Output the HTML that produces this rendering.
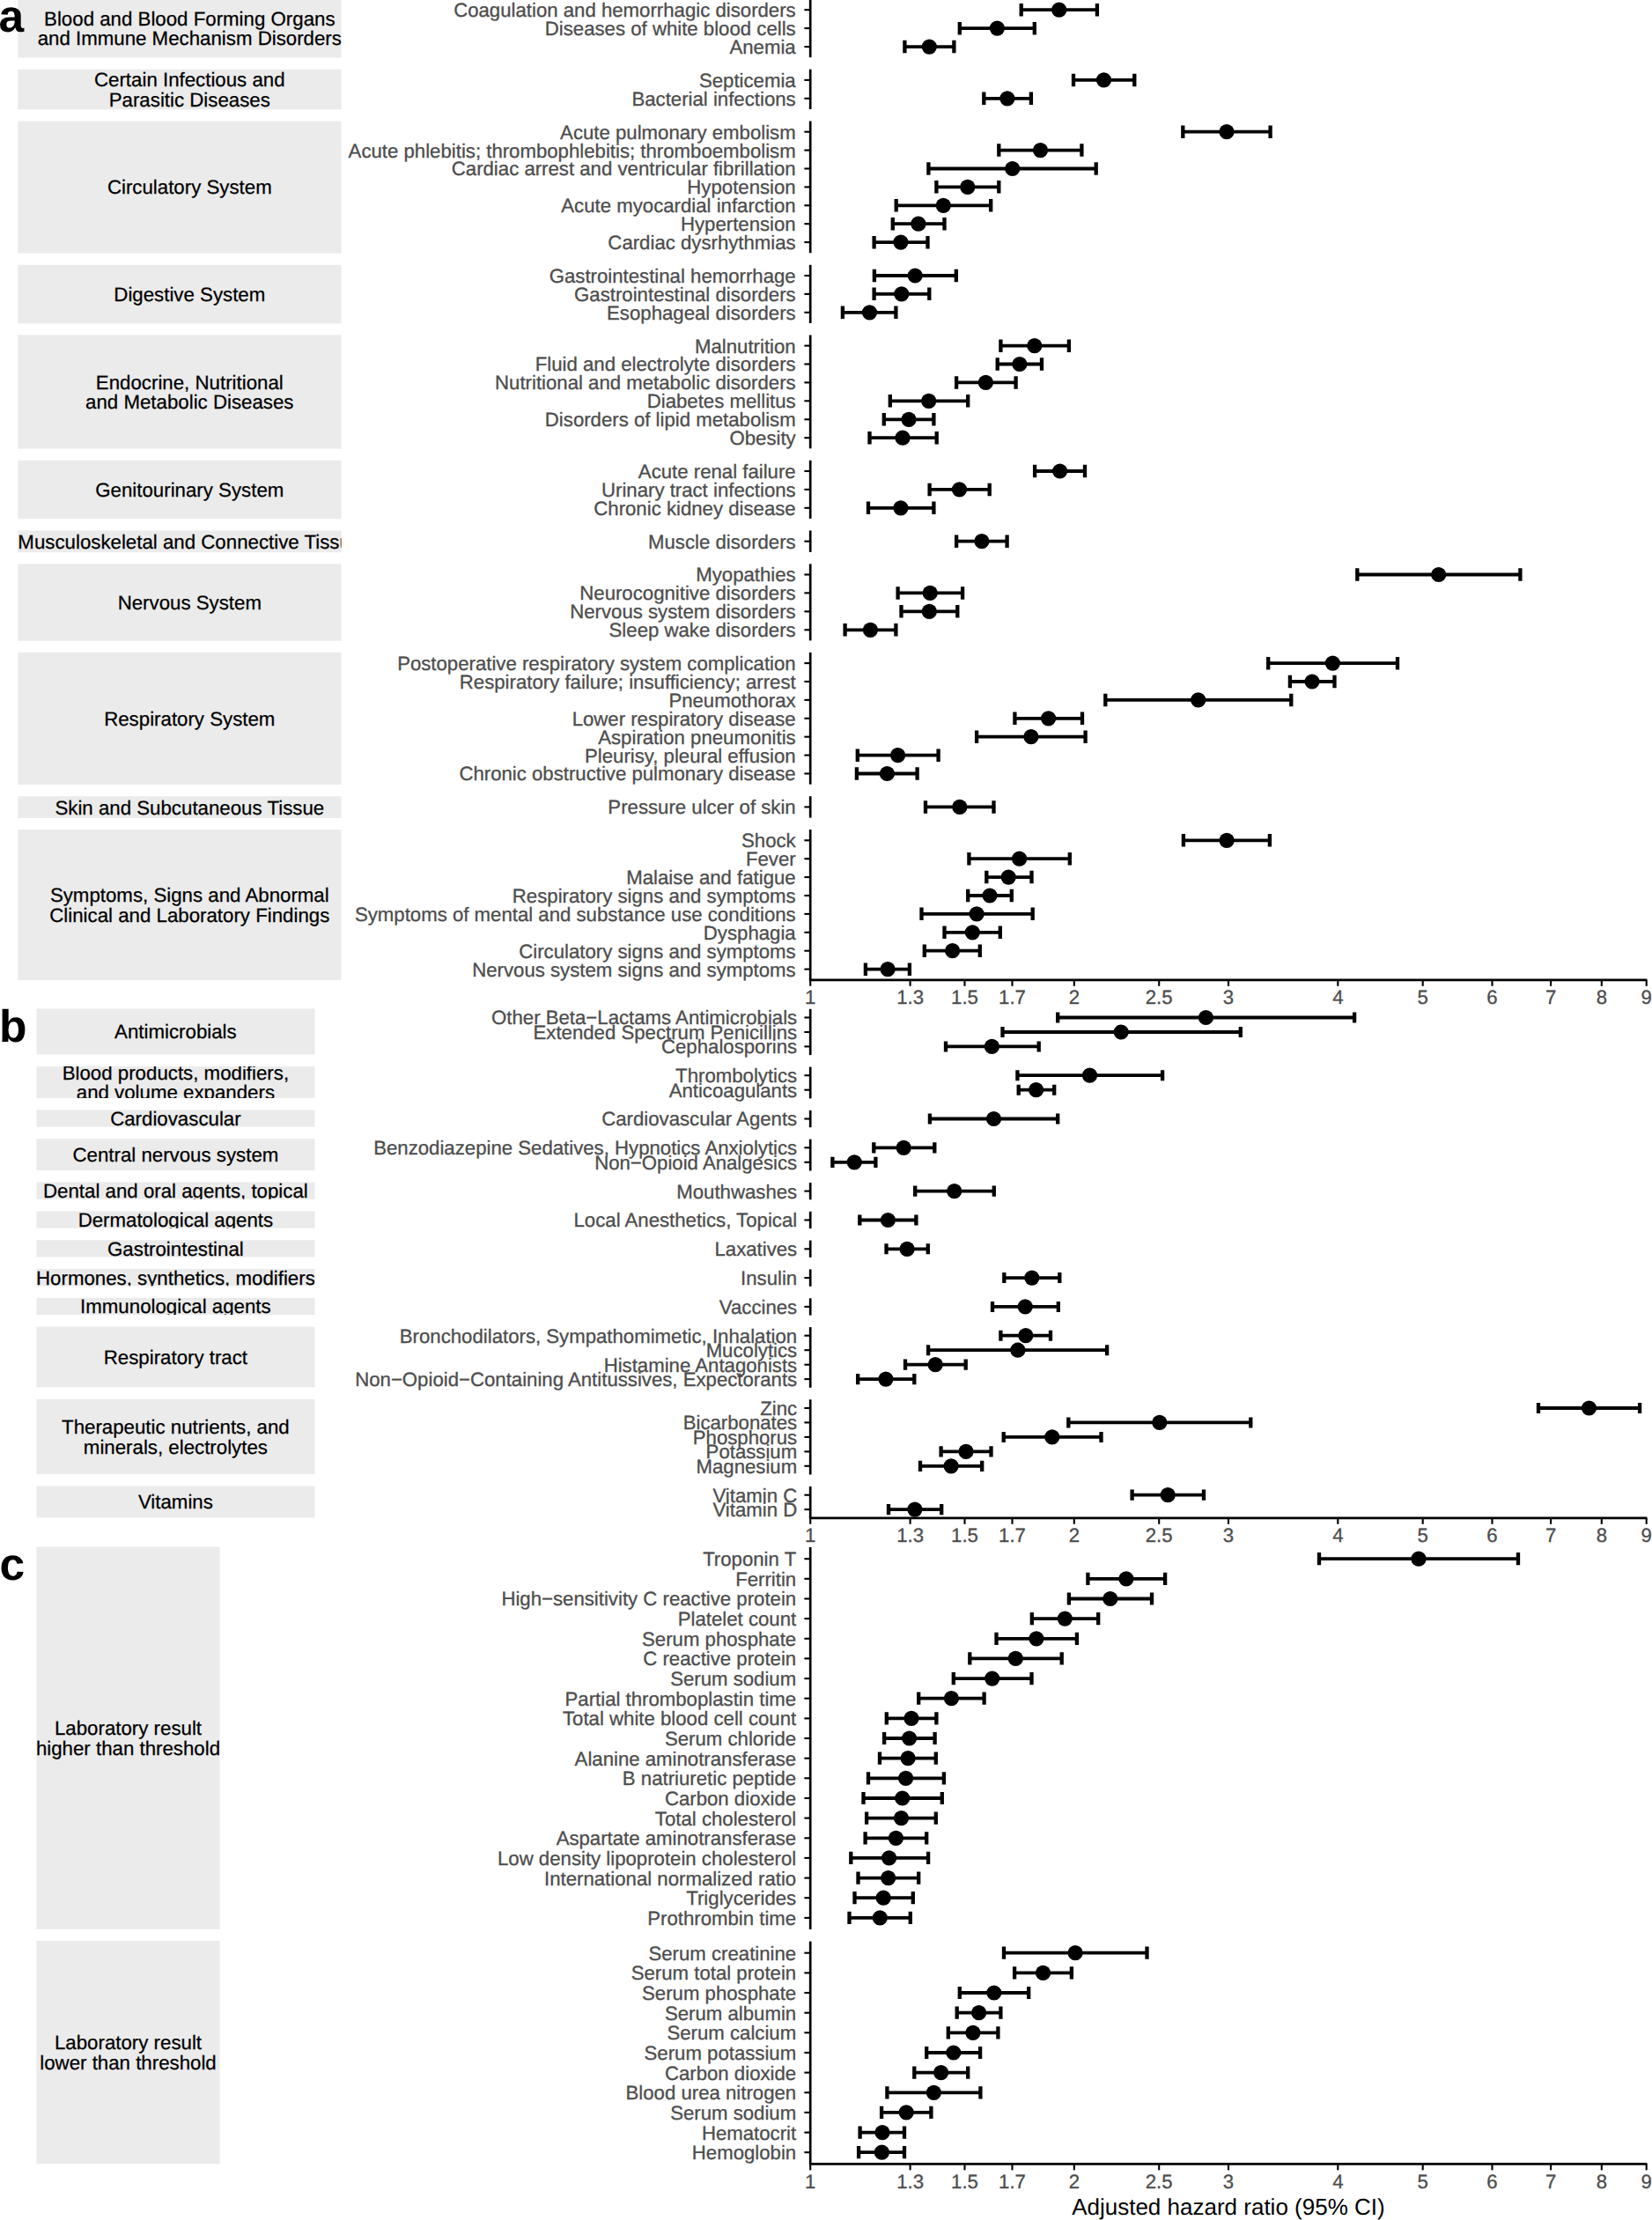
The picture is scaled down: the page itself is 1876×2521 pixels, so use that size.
<!DOCTYPE html>
<html lang="en"><head><meta charset="utf-8"><title>Forest plot</title>
<style>html,body{margin:0;padding:0;background:#fff;width:1876px;height:2521px;overflow:hidden}svg{display:block}</style></head>
<body>
<svg width="1876" height="2521" viewBox="0 0 1876 2521" font-family="'Liberation Sans', sans-serif" text-rendering="geometricPrecision" font-size="22.20">
<rect width="1876" height="2521" fill="#fff"/>
<g><clipPath id="c1"><rect x="20.2" y="-1.0" width="367.3" height="66.5"/></clipPath><rect x="20.2" y="-1.0" width="367.3" height="66.5" fill="#ebebeb"/><g clip-path="url(#c1)" text-anchor="middle" font-size="22.28" fill="#000" stroke="#000" stroke-width="0.25"><text x="215.3" y="29.0">Blood and Blood Forming Organs</text><text x="215.3" y="51.3">and Immune Mechanism Disorders</text></g><clipPath id="c2"><rect x="20.2" y="78.7" width="367.3" height="45.6"/></clipPath><rect x="20.2" y="78.7" width="367.3" height="45.6" fill="#ebebeb"/><g clip-path="url(#c2)" text-anchor="middle" font-size="22.28" fill="#000" stroke="#000" stroke-width="0.25"><text x="215.3" y="98.3">Certain Infectious and</text><text x="215.3" y="120.6">Parasitic Diseases</text></g><clipPath id="c3"><rect x="20.2" y="137.5" width="367.3" height="150.1"/></clipPath><rect x="20.2" y="137.5" width="367.3" height="150.1" fill="#ebebeb"/><g clip-path="url(#c3)" text-anchor="middle" font-size="22.28" fill="#000" stroke="#000" stroke-width="0.25"><text x="215.3" y="220.4">Circulatory System</text></g><clipPath id="c4"><rect x="20.2" y="300.8" width="367.3" height="66.5"/></clipPath><rect x="20.2" y="300.8" width="367.3" height="66.5" fill="#ebebeb"/><g clip-path="url(#c4)" text-anchor="middle" font-size="22.28" fill="#000" stroke="#000" stroke-width="0.25"><text x="215.3" y="341.9">Digestive System</text></g><clipPath id="c5"><rect x="20.2" y="380.4" width="367.3" height="129.2"/></clipPath><rect x="20.2" y="380.4" width="367.3" height="129.2" fill="#ebebeb"/><g clip-path="url(#c5)" text-anchor="middle" font-size="22.28" fill="#000" stroke="#000" stroke-width="0.25"><text x="215.3" y="441.8">Endocrine, Nutritional</text><text x="215.3" y="464.1">and Metabolic Diseases</text></g><clipPath id="c6"><rect x="20.2" y="522.8" width="367.3" height="66.5"/></clipPath><rect x="20.2" y="522.8" width="367.3" height="66.5" fill="#ebebeb"/><g clip-path="url(#c6)" text-anchor="middle" font-size="22.28" fill="#000" stroke="#000" stroke-width="0.25"><text x="215.3" y="564.0">Genitourinary System</text></g><clipPath id="c7"><rect x="20.2" y="602.5" width="367.3" height="24.7"/></clipPath><rect x="20.2" y="602.5" width="367.3" height="24.7" fill="#ebebeb"/><g clip-path="url(#c7)" text-anchor="middle" font-size="22.28" fill="#000" stroke="#000" stroke-width="0.25"><text x="215.3" y="622.7">Musculoskeletal and Connective Tissue</text></g><clipPath id="c8"><rect x="20.2" y="640.3" width="367.3" height="87.4"/></clipPath><rect x="20.2" y="640.3" width="367.3" height="87.4" fill="#ebebeb"/><g clip-path="url(#c8)" text-anchor="middle" font-size="22.28" fill="#000" stroke="#000" stroke-width="0.25"><text x="215.3" y="691.9">Nervous System</text></g><clipPath id="c9"><rect x="20.2" y="740.9" width="367.3" height="150.1"/></clipPath><rect x="20.2" y="740.9" width="367.3" height="150.1" fill="#ebebeb"/><g clip-path="url(#c9)" text-anchor="middle" font-size="22.28" fill="#000" stroke="#000" stroke-width="0.25"><text x="215.3" y="823.9">Respiratory System</text></g><clipPath id="c10"><rect x="20.2" y="904.2" width="367.3" height="24.7"/></clipPath><rect x="20.2" y="904.2" width="367.3" height="24.7" fill="#ebebeb"/><g clip-path="url(#c10)" text-anchor="middle" font-size="22.28" fill="#000" stroke="#000" stroke-width="0.25"><text x="215.3" y="924.5">Skin and Subcutaneous Tissue</text></g><clipPath id="c11"><rect x="20.2" y="942.1" width="367.3" height="171.0"/></clipPath><rect x="20.2" y="942.1" width="367.3" height="171.0" fill="#ebebeb"/><g clip-path="url(#c11)" text-anchor="middle" font-size="22.28" fill="#000" stroke="#000" stroke-width="0.25"><text x="215.3" y="1024.3">Symptoms, Signs and Abnormal</text><text x="215.3" y="1046.6">Clinical and Laboratory Findings</text></g></g>
<g text-anchor="end" fill="#4d4d4d" stroke="#4d4d4d" stroke-width="0.3"><text x="903.7" y="19.1">Coagulation and hemorrhagic disorders</text><text x="903.7" y="40.0">Diseases of white blood cells</text><text x="903.7" y="61.0">Anemia</text><text x="903.7" y="98.8">Septicemia</text><text x="903.7" y="119.7">Bacterial infections</text><text x="903.7" y="157.6">Acute pulmonary embolism</text><text x="903.7" y="178.5">Acute phlebitis; thrombophlebitis; thromboembolism</text><text x="903.7" y="199.4">Cardiac arrest and ventricular fibrillation</text><text x="903.7" y="220.3">Hypotension</text><text x="903.7" y="241.2">Acute myocardial infarction</text><text x="903.7" y="262.1">Hypertension</text><text x="903.7" y="283.0">Cardiac dysrhythmias</text><text x="903.7" y="320.9">Gastrointestinal hemorrhage</text><text x="903.7" y="341.8">Gastrointestinal disorders</text><text x="903.7" y="362.7">Esophageal disorders</text><text x="903.7" y="400.5">Malnutrition</text><text x="903.7" y="421.4">Fluid and electrolyte disorders</text><text x="903.7" y="442.3">Nutritional and metabolic disorders</text><text x="903.7" y="463.2">Diabetes mellitus</text><text x="903.7" y="484.2">Disorders of lipid metabolism</text><text x="903.7" y="505.1">Obesity</text><text x="903.7" y="542.9">Acute renal failure</text><text x="903.7" y="563.8">Urinary tract infections</text><text x="903.7" y="584.7">Chronic kidney disease</text><text x="903.7" y="622.6">Muscle disorders</text><text x="903.7" y="660.4">Myopathies</text><text x="903.7" y="681.3">Neurocognitive disorders</text><text x="903.7" y="702.3">Nervous system disorders</text><text x="903.7" y="723.2">Sleep wake disorders</text><text x="903.7" y="761.0">Postoperative respiratory system complication</text><text x="903.7" y="781.9">Respiratory failure; insufficiency; arrest</text><text x="903.7" y="802.8">Pneumothorax</text><text x="903.7" y="823.7">Lower respiratory disease</text><text x="903.7" y="844.6">Aspiration pneumonitis</text><text x="903.7" y="865.5">Pleurisy, pleural effusion</text><text x="903.7" y="886.4">Chronic obstructive pulmonary disease</text><text x="903.7" y="924.3">Pressure ulcer of skin</text><text x="903.7" y="962.2">Shock</text><text x="903.7" y="983.1">Fever</text><text x="903.7" y="1004.0">Malaise and fatigue</text><text x="903.7" y="1024.9">Respiratory signs and symptoms</text><text x="903.7" y="1045.8">Symptoms of mental and substance use conditions</text><text x="903.7" y="1066.7">Dysphagia</text><text x="903.7" y="1087.6">Circulatory signs and symptoms</text><text x="903.7" y="1108.5">Nervous system signs and symptoms</text></g>
<g text-anchor="middle" fill="#4d4d4d" stroke="#4d4d4d" stroke-width="0.3"><text x="920.2" y="1140.1">1</text><text x="1033.6" y="1140.1">1.3</text><text x="1095.5" y="1140.1">1.5</text><text x="1149.5" y="1140.1">1.7</text><text x="1219.8" y="1140.1">2</text><text x="1316.2" y="1140.1">2.5</text><text x="1395.0" y="1140.1">3</text><text x="1519.3" y="1140.1">4</text><text x="1615.7" y="1140.1">5</text><text x="1694.5" y="1140.1">6</text><text x="1761.1" y="1140.1">7</text><text x="1818.8" y="1140.1">8</text><text x="1869.7" y="1140.1">9</text></g>
<g stroke="#000" stroke-width="2.7" fill="none"><line x1="920.2" y1="-0.9" x2="920.2" y2="65.2"/><line x1="920.2" y1="78.7" x2="920.2" y2="124.0"/><line x1="920.2" y1="137.5" x2="920.2" y2="287.3"/><line x1="920.2" y1="300.8" x2="920.2" y2="367.0"/><line x1="920.2" y1="380.5" x2="920.2" y2="509.3"/><line x1="920.2" y1="522.8" x2="920.2" y2="589.0"/><line x1="920.2" y1="602.5" x2="920.2" y2="626.9"/><line x1="920.2" y1="640.4" x2="920.2" y2="727.4"/><line x1="920.2" y1="740.9" x2="920.2" y2="890.7"/><line x1="920.2" y1="904.2" x2="920.2" y2="928.6"/><line x1="920.2" y1="942.1" x2="920.2" y2="1112.8"/><line x1="918.9" y1="1112.8" x2="1870.4" y2="1112.8"/></g>
<g stroke="#000" stroke-width="2.1" fill="none"><line x1="913.4" y1="11.2" x2="920.2" y2="11.2"/><line x1="913.4" y1="32.1" x2="920.2" y2="32.1"/><line x1="913.4" y1="53.1" x2="920.2" y2="53.1"/><line x1="913.4" y1="90.9" x2="920.2" y2="90.9"/><line x1="913.4" y1="111.8" x2="920.2" y2="111.8"/><line x1="913.4" y1="149.7" x2="920.2" y2="149.7"/><line x1="913.4" y1="170.6" x2="920.2" y2="170.6"/><line x1="913.4" y1="191.5" x2="920.2" y2="191.5"/><line x1="913.4" y1="212.4" x2="920.2" y2="212.4"/><line x1="913.4" y1="233.3" x2="920.2" y2="233.3"/><line x1="913.4" y1="254.2" x2="920.2" y2="254.2"/><line x1="913.4" y1="275.1" x2="920.2" y2="275.1"/><line x1="913.4" y1="313.0" x2="920.2" y2="313.0"/><line x1="913.4" y1="333.9" x2="920.2" y2="333.9"/><line x1="913.4" y1="354.8" x2="920.2" y2="354.8"/><line x1="913.4" y1="392.6" x2="920.2" y2="392.6"/><line x1="913.4" y1="413.5" x2="920.2" y2="413.5"/><line x1="913.4" y1="434.4" x2="920.2" y2="434.4"/><line x1="913.4" y1="455.3" x2="920.2" y2="455.3"/><line x1="913.4" y1="476.3" x2="920.2" y2="476.3"/><line x1="913.4" y1="497.2" x2="920.2" y2="497.2"/><line x1="913.4" y1="535.0" x2="920.2" y2="535.0"/><line x1="913.4" y1="555.9" x2="920.2" y2="555.9"/><line x1="913.4" y1="576.8" x2="920.2" y2="576.8"/><line x1="913.4" y1="614.7" x2="920.2" y2="614.7"/><line x1="913.4" y1="652.5" x2="920.2" y2="652.5"/><line x1="913.4" y1="673.4" x2="920.2" y2="673.4"/><line x1="913.4" y1="694.4" x2="920.2" y2="694.4"/><line x1="913.4" y1="715.3" x2="920.2" y2="715.3"/><line x1="913.4" y1="753.1" x2="920.2" y2="753.1"/><line x1="913.4" y1="774.0" x2="920.2" y2="774.0"/><line x1="913.4" y1="794.9" x2="920.2" y2="794.9"/><line x1="913.4" y1="815.8" x2="920.2" y2="815.8"/><line x1="913.4" y1="836.7" x2="920.2" y2="836.7"/><line x1="913.4" y1="857.6" x2="920.2" y2="857.6"/><line x1="913.4" y1="878.5" x2="920.2" y2="878.5"/><line x1="913.4" y1="916.4" x2="920.2" y2="916.4"/><line x1="913.4" y1="954.3" x2="920.2" y2="954.3"/><line x1="913.4" y1="975.2" x2="920.2" y2="975.2"/><line x1="913.4" y1="996.1" x2="920.2" y2="996.1"/><line x1="913.4" y1="1017.0" x2="920.2" y2="1017.0"/><line x1="913.4" y1="1037.9" x2="920.2" y2="1037.9"/><line x1="913.4" y1="1058.8" x2="920.2" y2="1058.8"/><line x1="913.4" y1="1079.7" x2="920.2" y2="1079.7"/><line x1="913.4" y1="1100.6" x2="920.2" y2="1100.6"/><line x1="920.2" y1="1112.8" x2="920.2" y2="1119.8"/><line x1="1033.6" y1="1112.8" x2="1033.6" y2="1119.8"/><line x1="1095.5" y1="1112.8" x2="1095.5" y2="1119.8"/><line x1="1149.5" y1="1112.8" x2="1149.5" y2="1119.8"/><line x1="1219.8" y1="1112.8" x2="1219.8" y2="1119.8"/><line x1="1316.2" y1="1112.8" x2="1316.2" y2="1119.8"/><line x1="1395.0" y1="1112.8" x2="1395.0" y2="1119.8"/><line x1="1519.3" y1="1112.8" x2="1519.3" y2="1119.8"/><line x1="1615.7" y1="1112.8" x2="1615.7" y2="1119.8"/><line x1="1694.5" y1="1112.8" x2="1694.5" y2="1119.8"/><line x1="1761.1" y1="1112.8" x2="1761.1" y2="1119.8"/><line x1="1818.8" y1="1112.8" x2="1818.8" y2="1119.8"/><line x1="1869.7" y1="1112.8" x2="1869.7" y2="1119.8"/></g>
<g stroke="#000" stroke-width="3.8" fill="none"><path d="M1159.7 11.2H1245.9"/><path d="M1089.8 32.1H1174.8"/><path d="M1027.4 53.1H1083.4"/><path d="M1219.0 90.9H1288.3"/><path d="M1117.3 111.8H1170.9"/><path d="M1343.3 149.7H1442.6"/><path d="M1134.3 170.6H1228.4"/><path d="M1054.4 191.5H1244.7"/><path d="M1063.4 212.4H1134.3"/><path d="M1017.7 233.3H1125.2"/><path d="M1013.8 254.2H1072.5"/><path d="M992.6 275.1H1053.5"/><path d="M992.9 313.0H1085.8"/><path d="M992.6 333.9H1055.3"/><path d="M956.9 354.8H1017.4"/><path d="M1136.4 392.6H1213.9"/><path d="M1132.7 413.5H1183.0"/><path d="M1086.1 434.4H1153.6"/><path d="M1010.8 455.3H1099.2"/><path d="M1003.8 476.3H1060.4"/><path d="M987.5 497.2H1063.7"/><path d="M1175.1 535.0H1232.0"/><path d="M1055.6 555.9H1123.7"/><path d="M986.0 576.8H1060.4"/><path d="M1086.1 614.7H1143.6"/><path d="M1541.3 652.5H1726.4"/><path d="M1019.6 673.4H1093.1"/><path d="M1023.5 694.4H1087.3"/><path d="M959.6 715.3H1017.4"/><path d="M1440.2 753.1H1587.0"/><path d="M1464.9 774.0H1515.5"/><path d="M1255.3 794.9H1466.3"/><path d="M1152.4 815.8H1229.0"/><path d="M1109.1 836.7H1232.6"/><path d="M973.8 857.6H1065.6"/><path d="M972.9 878.5H1041.6"/><path d="M1051.0 916.4H1128.5"/><path d="M1343.9 954.3H1441.9"/><path d="M1100.4 975.2H1214.8"/><path d="M1120.3 996.1H1171.5"/><path d="M1099.2 1017.0H1148.8"/><path d="M1046.5 1037.9H1172.7"/><path d="M1072.5 1058.8H1135.8"/><path d="M1049.8 1079.7H1112.8"/><path d="M982.9 1100.6H1032.9"/></g>
<g stroke="#000" stroke-width="4.3" fill="none"><path d="M1159.7 4.0V18.5M1245.9 4.0V18.5"/><path d="M1089.8 24.9V39.4M1174.8 24.9V39.4"/><path d="M1027.4 45.8V60.3M1083.4 45.8V60.3"/><path d="M1219.0 83.7V98.2M1288.3 83.7V98.2"/><path d="M1117.3 104.6V119.1M1170.9 104.6V119.1"/><path d="M1343.3 142.4V156.9M1442.6 142.4V156.9"/><path d="M1134.3 163.3V177.8M1228.4 163.3V177.8"/><path d="M1054.4 184.2V198.7M1244.7 184.2V198.7"/><path d="M1063.4 205.1V219.6M1134.3 205.1V219.6"/><path d="M1017.7 226.0V240.5M1125.2 226.0V240.5"/><path d="M1013.8 246.9V261.4M1072.5 246.9V261.4"/><path d="M992.6 267.9V282.4M1053.5 267.9V282.4"/><path d="M992.9 305.7V320.2M1085.8 305.7V320.2"/><path d="M992.6 326.6V341.1M1055.3 326.6V341.1"/><path d="M956.9 347.5V362.0M1017.4 347.5V362.0"/><path d="M1136.4 385.4V399.9M1213.9 385.4V399.9"/><path d="M1132.7 406.3V420.8M1183.0 406.3V420.8"/><path d="M1086.1 427.2V441.7M1153.6 427.2V441.7"/><path d="M1010.8 448.1V462.6M1099.2 448.1V462.6"/><path d="M1003.8 469.0V483.5M1060.4 469.0V483.5"/><path d="M987.5 489.9V504.4M1063.7 489.9V504.4"/><path d="M1175.1 527.8V542.3M1232.0 527.8V542.3"/><path d="M1055.6 548.7V563.2M1123.7 548.7V563.2"/><path d="M986.0 569.6V584.1M1060.4 569.6V584.1"/><path d="M1086.1 607.4V621.9M1143.6 607.4V621.9"/><path d="M1541.3 645.3V659.8M1726.4 645.3V659.8"/><path d="M1019.6 666.2V680.7M1093.1 666.2V680.7"/><path d="M1023.5 687.1V701.6M1087.3 687.1V701.6"/><path d="M959.6 708.0V722.5M1017.4 708.0V722.5"/><path d="M1440.2 745.9V760.4M1587.0 745.9V760.4"/><path d="M1464.9 766.8V781.3M1515.5 766.8V781.3"/><path d="M1255.3 787.7V802.2M1466.3 787.7V802.2"/><path d="M1152.4 808.6V823.1M1229.0 808.6V823.1"/><path d="M1109.1 829.5V844.0M1232.6 829.5V844.0"/><path d="M973.8 850.4V864.9M1065.6 850.4V864.9"/><path d="M972.9 871.3V885.8M1041.6 871.3V885.8"/><path d="M1051.0 909.2V923.7M1128.5 909.2V923.7"/><path d="M1343.9 947.0V961.5M1441.9 947.0V961.5"/><path d="M1100.4 967.9V982.4M1214.8 967.9V982.4"/><path d="M1120.3 988.8V1003.3M1171.5 988.8V1003.3"/><path d="M1099.2 1009.7V1024.2M1148.8 1009.7V1024.2"/><path d="M1046.5 1030.6V1045.1M1172.7 1030.6V1045.1"/><path d="M1072.5 1051.5V1066.0M1135.8 1051.5V1066.0"/><path d="M1049.8 1072.4V1086.9M1112.8 1072.4V1086.9"/><path d="M982.9 1093.4V1107.9M1032.9 1093.4V1107.9"/></g>
<g fill="#000"><circle cx="1202.7" cy="11.2" r="8.6"/><circle cx="1132.4" cy="32.1" r="8.6"/><circle cx="1055.3" cy="53.1" r="8.6"/><circle cx="1253.5" cy="90.9" r="8.6"/><circle cx="1143.9" cy="111.8" r="8.6"/><circle cx="1393.0" cy="149.7" r="8.6"/><circle cx="1181.5" cy="170.6" r="8.6"/><circle cx="1149.7" cy="191.5" r="8.6"/><circle cx="1098.8" cy="212.4" r="8.6"/><circle cx="1071.3" cy="233.3" r="8.6"/><circle cx="1042.9" cy="254.2" r="8.6"/><circle cx="1022.9" cy="275.1" r="8.6"/><circle cx="1039.2" cy="313.0" r="8.6"/><circle cx="1023.8" cy="333.9" r="8.6"/><circle cx="987.5" cy="354.8" r="8.6"/><circle cx="1174.8" cy="392.6" r="8.6"/><circle cx="1157.9" cy="413.5" r="8.6"/><circle cx="1119.4" cy="434.4" r="8.6"/><circle cx="1054.7" cy="455.3" r="8.6"/><circle cx="1032.0" cy="476.3" r="8.6"/><circle cx="1025.0" cy="497.2" r="8.6"/><circle cx="1203.6" cy="535.0" r="8.6"/><circle cx="1089.5" cy="555.9" r="8.6"/><circle cx="1022.9" cy="576.8" r="8.6"/><circle cx="1114.9" cy="614.7" r="8.6"/><circle cx="1633.7" cy="652.5" r="8.6"/><circle cx="1056.2" cy="673.4" r="8.6"/><circle cx="1055.3" cy="694.4" r="8.6"/><circle cx="988.4" cy="715.3" r="8.6"/><circle cx="1513.4" cy="753.1" r="8.6"/><circle cx="1490.0" cy="774.0" r="8.6"/><circle cx="1360.7" cy="794.9" r="8.6"/><circle cx="1190.6" cy="815.8" r="8.6"/><circle cx="1170.9" cy="836.7" r="8.6"/><circle cx="1019.6" cy="857.6" r="8.6"/><circle cx="1007.4" cy="878.5" r="8.6"/><circle cx="1089.8" cy="916.4" r="8.6"/><circle cx="1393.1" cy="954.3" r="8.6"/><circle cx="1157.6" cy="975.2" r="8.6"/><circle cx="1145.2" cy="996.1" r="8.6"/><circle cx="1124.0" cy="1017.0" r="8.6"/><circle cx="1109.1" cy="1037.9" r="8.6"/><circle cx="1104.3" cy="1058.8" r="8.6"/><circle cx="1081.6" cy="1079.7" r="8.6"/><circle cx="1008.1" cy="1100.6" r="8.6"/></g>
<g><clipPath id="c12"><rect x="41.4" y="1145.4" width="316.1" height="52.2"/></clipPath><rect x="41.4" y="1145.4" width="316.1" height="52.2" fill="#ebebeb"/><g clip-path="url(#c12)" text-anchor="middle" font-size="22.28" fill="#000" stroke="#000" stroke-width="0.25"><text x="199.4" y="1179.4">Antimicrobials</text></g><clipPath id="c13"><rect x="41.4" y="1211.1" width="316.1" height="35.8"/></clipPath><rect x="41.4" y="1211.1" width="316.1" height="35.8" fill="#ebebeb"/><g clip-path="url(#c13)" text-anchor="middle" font-size="22.28" fill="#000" stroke="#000" stroke-width="0.25"><text x="199.4" y="1225.8">Blood products, modifiers,</text><text x="199.4" y="1248.1">and volume expanders</text></g><clipPath id="c14"><rect x="41.4" y="1260.4" width="316.1" height="19.3"/></clipPath><rect x="41.4" y="1260.4" width="316.1" height="19.3" fill="#ebebeb"/><g clip-path="url(#c14)" text-anchor="middle" font-size="22.28" fill="#000" stroke="#000" stroke-width="0.25"><text x="199.4" y="1278.0">Cardiovascular</text></g><clipPath id="c15"><rect x="41.4" y="1293.2" width="316.1" height="35.8"/></clipPath><rect x="41.4" y="1293.2" width="316.1" height="35.8" fill="#ebebeb"/><g clip-path="url(#c15)" text-anchor="middle" font-size="22.28" fill="#000" stroke="#000" stroke-width="0.25"><text x="199.4" y="1319.0">Central nervous system</text></g><clipPath id="c16"><rect x="41.4" y="1342.5" width="316.1" height="19.3"/></clipPath><rect x="41.4" y="1342.5" width="316.1" height="19.3" fill="#ebebeb"/><g clip-path="url(#c16)" text-anchor="middle" font-size="22.28" fill="#000" stroke="#000" stroke-width="0.25"><text x="199.4" y="1360.1">Dental and oral agents, topical</text></g><clipPath id="c17"><rect x="41.4" y="1375.4" width="316.1" height="19.3"/></clipPath><rect x="41.4" y="1375.4" width="316.1" height="19.3" fill="#ebebeb"/><g clip-path="url(#c17)" text-anchor="middle" font-size="22.28" fill="#000" stroke="#000" stroke-width="0.25"><text x="199.4" y="1392.9">Dermatological agents</text></g><clipPath id="c18"><rect x="41.4" y="1408.2" width="316.1" height="19.3"/></clipPath><rect x="41.4" y="1408.2" width="316.1" height="19.3" fill="#ebebeb"/><g clip-path="url(#c18)" text-anchor="middle" font-size="22.28" fill="#000" stroke="#000" stroke-width="0.25"><text x="199.4" y="1425.7">Gastrointestinal</text></g><clipPath id="c19"><rect x="41.4" y="1441.0" width="316.1" height="19.3"/></clipPath><rect x="41.4" y="1441.0" width="316.1" height="19.3" fill="#ebebeb"/><g clip-path="url(#c19)" text-anchor="middle" font-size="22.28" fill="#000" stroke="#000" stroke-width="0.25"><text x="199.4" y="1458.5">Hormones, synthetics, modifiers</text></g><clipPath id="c20"><rect x="41.4" y="1473.8" width="316.1" height="19.3"/></clipPath><rect x="41.4" y="1473.8" width="316.1" height="19.3" fill="#ebebeb"/><g clip-path="url(#c20)" text-anchor="middle" font-size="22.28" fill="#000" stroke="#000" stroke-width="0.25"><text x="199.4" y="1491.4">Immunological agents</text></g><clipPath id="c21"><rect x="41.4" y="1506.6" width="316.1" height="68.7"/></clipPath><rect x="41.4" y="1506.6" width="316.1" height="68.7" fill="#ebebeb"/><g clip-path="url(#c21)" text-anchor="middle" font-size="22.28" fill="#000" stroke="#000" stroke-width="0.25"><text x="199.4" y="1548.9">Respiratory tract</text></g><clipPath id="c22"><rect x="41.4" y="1588.9" width="316.1" height="85.2"/></clipPath><rect x="41.4" y="1588.9" width="316.1" height="85.2" fill="#ebebeb"/><g clip-path="url(#c22)" text-anchor="middle" font-size="22.28" fill="#000" stroke="#000" stroke-width="0.25"><text x="199.4" y="1628.2">Therapeutic nutrients, and</text><text x="199.4" y="1650.5">minerals, electrolytes</text></g><clipPath id="c23"><rect x="41.4" y="1687.6" width="316.1" height="35.8"/></clipPath><rect x="41.4" y="1687.6" width="316.1" height="35.8" fill="#ebebeb"/><g clip-path="url(#c23)" text-anchor="middle" font-size="22.28" fill="#000" stroke="#000" stroke-width="0.25"><text x="199.4" y="1713.4">Vitamins</text></g></g>
<g text-anchor="end" fill="#4d4d4d" stroke="#4d4d4d" stroke-width="0.3"><text x="905.2" y="1163.4">Other Beta−Lactams Antimicrobials</text><text x="905.2" y="1179.9">Extended Spectrum Penicillins</text><text x="905.2" y="1196.3">Cephalosporins</text><text x="905.2" y="1229.1">Thrombolytics</text><text x="905.2" y="1245.6">Anticoagulants</text><text x="905.2" y="1278.4">Cardiovascular Agents</text><text x="905.2" y="1311.2">Benzodiazepine Sedatives, Hypnotics Anxiolytics</text><text x="905.2" y="1327.7">Non−Opioid Analgesics</text><text x="905.2" y="1360.5">Mouthwashes</text><text x="905.2" y="1393.4">Local Anesthetics, Topical</text><text x="905.2" y="1426.2">Laxatives</text><text x="905.2" y="1459.0">Insulin</text><text x="905.2" y="1491.8">Vaccines</text><text x="905.2" y="1524.6">Bronchodilators, Sympathomimetic, Inhalation</text><text x="905.2" y="1541.1">Mucolytics</text><text x="905.2" y="1557.6">Histamine Antagonists</text><text x="905.2" y="1574.0">Non−Opioid−Containing Antitussives, Expectorants</text><text x="905.2" y="1606.9">Zinc</text><text x="905.2" y="1623.3">Bicarbonates</text><text x="905.2" y="1639.8">Phosphorus</text><text x="905.2" y="1656.3">Potassium</text><text x="905.2" y="1672.7">Magnesium</text><text x="905.2" y="1705.6">Vitamin C</text><text x="905.2" y="1722.0">Vitamin D</text></g>
<g text-anchor="middle" fill="#4d4d4d" stroke="#4d4d4d" stroke-width="0.3"><text x="920.2" y="1751.1">1</text><text x="1033.6" y="1751.1">1.3</text><text x="1095.5" y="1751.1">1.5</text><text x="1149.5" y="1751.1">1.7</text><text x="1219.8" y="1751.1">2</text><text x="1316.2" y="1751.1">2.5</text><text x="1395.0" y="1751.1">3</text><text x="1519.3" y="1751.1">4</text><text x="1615.7" y="1751.1">5</text><text x="1694.5" y="1751.1">6</text><text x="1761.1" y="1751.1">7</text><text x="1818.8" y="1751.1">8</text><text x="1869.7" y="1751.1">9</text></g>
<g stroke="#000" stroke-width="2.7" fill="none"><line x1="920.2" y1="1145.8" x2="920.2" y2="1198.1"/><line x1="920.2" y1="1211.6" x2="920.2" y2="1247.4"/><line x1="920.2" y1="1260.9" x2="920.2" y2="1280.2"/><line x1="920.2" y1="1293.7" x2="920.2" y2="1329.5"/><line x1="920.2" y1="1343.0" x2="920.2" y2="1362.3"/><line x1="920.2" y1="1375.8" x2="920.2" y2="1395.1"/><line x1="920.2" y1="1408.6" x2="920.2" y2="1427.9"/><line x1="920.2" y1="1441.4" x2="920.2" y2="1460.8"/><line x1="920.2" y1="1474.3" x2="920.2" y2="1493.6"/><line x1="920.2" y1="1507.1" x2="920.2" y2="1575.8"/><line x1="920.2" y1="1589.3" x2="920.2" y2="1674.5"/><line x1="920.2" y1="1688.0" x2="920.2" y2="1723.8"/><line x1="918.9" y1="1723.8" x2="1870.4" y2="1723.8"/></g>
<g stroke="#000" stroke-width="2.1" fill="none"><line x1="913.4" y1="1155.5" x2="920.2" y2="1155.5"/><line x1="913.4" y1="1172.0" x2="920.2" y2="1172.0"/><line x1="913.4" y1="1188.4" x2="920.2" y2="1188.4"/><line x1="913.4" y1="1221.2" x2="920.2" y2="1221.2"/><line x1="913.4" y1="1237.7" x2="920.2" y2="1237.7"/><line x1="913.4" y1="1270.5" x2="920.2" y2="1270.5"/><line x1="913.4" y1="1303.3" x2="920.2" y2="1303.3"/><line x1="913.4" y1="1319.8" x2="920.2" y2="1319.8"/><line x1="913.4" y1="1352.6" x2="920.2" y2="1352.6"/><line x1="913.4" y1="1385.5" x2="920.2" y2="1385.5"/><line x1="913.4" y1="1418.3" x2="920.2" y2="1418.3"/><line x1="913.4" y1="1451.1" x2="920.2" y2="1451.1"/><line x1="913.4" y1="1483.9" x2="920.2" y2="1483.9"/><line x1="913.4" y1="1516.7" x2="920.2" y2="1516.7"/><line x1="913.4" y1="1533.2" x2="920.2" y2="1533.2"/><line x1="913.4" y1="1549.7" x2="920.2" y2="1549.7"/><line x1="913.4" y1="1566.1" x2="920.2" y2="1566.1"/><line x1="913.4" y1="1599.0" x2="920.2" y2="1599.0"/><line x1="913.4" y1="1615.4" x2="920.2" y2="1615.4"/><line x1="913.4" y1="1631.9" x2="920.2" y2="1631.9"/><line x1="913.4" y1="1648.4" x2="920.2" y2="1648.4"/><line x1="913.4" y1="1664.8" x2="920.2" y2="1664.8"/><line x1="913.4" y1="1697.7" x2="920.2" y2="1697.7"/><line x1="913.4" y1="1714.1" x2="920.2" y2="1714.1"/><line x1="920.2" y1="1723.8" x2="920.2" y2="1730.8"/><line x1="1033.6" y1="1723.8" x2="1033.6" y2="1730.8"/><line x1="1095.5" y1="1723.8" x2="1095.5" y2="1730.8"/><line x1="1149.5" y1="1723.8" x2="1149.5" y2="1730.8"/><line x1="1219.8" y1="1723.8" x2="1219.8" y2="1730.8"/><line x1="1316.2" y1="1723.8" x2="1316.2" y2="1730.8"/><line x1="1395.0" y1="1723.8" x2="1395.0" y2="1730.8"/><line x1="1519.3" y1="1723.8" x2="1519.3" y2="1730.8"/><line x1="1615.7" y1="1723.8" x2="1615.7" y2="1730.8"/><line x1="1694.5" y1="1723.8" x2="1694.5" y2="1730.8"/><line x1="1761.1" y1="1723.8" x2="1761.1" y2="1730.8"/><line x1="1818.8" y1="1723.8" x2="1818.8" y2="1730.8"/><line x1="1869.7" y1="1723.8" x2="1869.7" y2="1730.8"/></g>
<g stroke="#000" stroke-width="3.8" fill="none"><path d="M1201.2 1155.5H1538.1"/><path d="M1138.5 1172.0H1408.8"/><path d="M1074.0 1188.4H1179.7"/><path d="M1155.4 1221.2H1320.1"/><path d="M1156.7 1237.7H1197.2"/><path d="M1055.9 1270.5H1201.2"/><path d="M992.3 1303.3H1061.3"/><path d="M945.4 1319.8H994.4"/><path d="M1039.2 1352.6H1128.8"/><path d="M976.3 1385.5H1040.4"/><path d="M1006.5 1418.3H1053.8"/><path d="M1140.3 1451.1H1203.3"/><path d="M1127.0 1483.9H1201.8"/><path d="M1136.4 1516.7H1193.0"/><path d="M1054.1 1533.2H1257.1"/><path d="M1028.0 1549.7H1096.7"/><path d="M974.2 1566.1H1038.3"/><path d="M1747.0 1599.0H1862.1"/><path d="M1213.3 1615.4H1420.3"/><path d="M1139.7 1631.9H1250.5"/><path d="M1068.6 1648.4H1125.5"/><path d="M1045.0 1664.8H1115.2"/><path d="M1285.6 1697.7H1367.0"/><path d="M1009.0 1714.1H1069.2"/></g>
<g stroke="#000" stroke-width="4.3" fill="none"><path d="M1201.2 1149.4V1161.5M1538.1 1149.4V1161.5"/><path d="M1138.5 1165.9V1178.0M1408.8 1165.9V1178.0"/><path d="M1074.0 1182.4V1194.5M1179.7 1182.4V1194.5"/><path d="M1155.4 1215.2V1227.3M1320.1 1215.2V1227.3"/><path d="M1156.7 1231.7V1243.8M1197.2 1231.7V1243.8"/><path d="M1055.9 1264.5V1276.6M1201.2 1264.5V1276.6"/><path d="M992.3 1297.3V1309.4M1061.3 1297.3V1309.4"/><path d="M945.4 1313.8V1325.9M994.4 1313.8V1325.9"/><path d="M1039.2 1346.6V1358.7M1128.8 1346.6V1358.7"/><path d="M976.3 1379.4V1391.5M1040.4 1379.4V1391.5"/><path d="M1006.5 1412.2V1424.3M1053.8 1412.2V1424.3"/><path d="M1140.3 1445.0V1457.1M1203.3 1445.0V1457.1"/><path d="M1127.0 1477.9V1490.0M1201.8 1477.9V1490.0"/><path d="M1136.4 1510.7V1522.8M1193.0 1510.7V1522.8"/><path d="M1054.1 1527.2V1539.3M1257.1 1527.2V1539.3"/><path d="M1028.0 1543.6V1555.7M1096.7 1543.6V1555.7"/><path d="M974.2 1560.1V1572.2M1038.3 1560.1V1572.2"/><path d="M1747.0 1592.9V1605.0M1862.1 1592.9V1605.0"/><path d="M1213.3 1609.4V1621.5M1420.3 1609.4V1621.5"/><path d="M1139.7 1625.9V1638.0M1250.5 1625.9V1638.0"/><path d="M1068.6 1642.3V1654.4M1125.5 1642.3V1654.4"/><path d="M1045.0 1658.8V1670.9M1115.2 1658.8V1670.9"/><path d="M1285.6 1691.6V1703.7M1367.0 1691.6V1703.7"/><path d="M1009.0 1708.1V1720.2M1069.2 1708.1V1720.2"/></g>
<g fill="#000"><circle cx="1369.4" cy="1155.5" r="8.6"/><circle cx="1273.2" cy="1172.0" r="8.6"/><circle cx="1126.4" cy="1188.4" r="8.6"/><circle cx="1237.5" cy="1221.2" r="8.6"/><circle cx="1176.6" cy="1237.7" r="8.6"/><circle cx="1128.5" cy="1270.5" r="8.6"/><circle cx="1026.2" cy="1303.3" r="8.6"/><circle cx="970.2" cy="1319.8" r="8.6"/><circle cx="1083.7" cy="1352.6" r="8.6"/><circle cx="1008.4" cy="1385.5" r="8.6"/><circle cx="1030.1" cy="1418.3" r="8.6"/><circle cx="1171.8" cy="1451.1" r="8.6"/><circle cx="1164.2" cy="1483.9" r="8.6"/><circle cx="1164.8" cy="1516.7" r="8.6"/><circle cx="1155.8" cy="1533.2" r="8.6"/><circle cx="1062.2" cy="1549.7" r="8.6"/><circle cx="1005.9" cy="1566.1" r="8.6"/><circle cx="1804.5" cy="1599.0" r="8.6"/><circle cx="1316.8" cy="1615.4" r="8.6"/><circle cx="1194.8" cy="1631.9" r="8.6"/><circle cx="1097.0" cy="1648.4" r="8.6"/><circle cx="1080.1" cy="1664.8" r="8.6"/><circle cx="1326.2" cy="1697.7" r="8.6"/><circle cx="1038.9" cy="1714.1" r="8.6"/></g>
<g><clipPath id="c24"><rect x="41.4" y="1756.5" width="208.2" height="434.4"/></clipPath><rect x="41.4" y="1756.5" width="208.2" height="434.4" fill="#ebebeb"/><g clip-path="url(#c24)" text-anchor="middle" font-size="22.28" fill="#000" stroke="#000" stroke-width="0.25"><text x="145.5" y="1970.4">Laboratory result</text><text x="145.5" y="1992.7">higher than threshold</text></g><clipPath id="c25"><rect x="41.4" y="2204.0" width="208.2" height="253.2"/></clipPath><rect x="41.4" y="2204.0" width="208.2" height="253.2" fill="#ebebeb"/><g clip-path="url(#c25)" text-anchor="middle" font-size="22.28" fill="#000" stroke="#000" stroke-width="0.25"><text x="145.5" y="2327.4">Laboratory result</text><text x="145.5" y="2349.7">lower than threshold</text></g></g>
<g text-anchor="end" fill="#4d4d4d" stroke="#4d4d4d" stroke-width="0.3"><text x="904.2" y="1778.1">Troponin T</text><text x="904.2" y="1800.7">Ferritin</text><text x="904.2" y="1823.4">High−sensitivity C reactive protein</text><text x="904.2" y="1846.0">Platelet count</text><text x="904.2" y="1868.7">Serum phosphate</text><text x="904.2" y="1891.3">C reactive protein</text><text x="904.2" y="1914.0">Serum sodium</text><text x="904.2" y="1936.6">Partial thromboplastin time</text><text x="904.2" y="1959.3">Total white blood cell count</text><text x="904.2" y="1981.9">Serum chloride</text><text x="904.2" y="2004.6">Alanine aminotransferase</text><text x="904.2" y="2027.2">B natriuretic peptide</text><text x="904.2" y="2049.9">Carbon dioxide</text><text x="904.2" y="2072.5">Total cholesterol</text><text x="904.2" y="2095.2">Aspartate aminotransferase</text><text x="904.2" y="2117.8">Low density lipoprotein cholesterol</text><text x="904.2" y="2140.5">International normalized ratio</text><text x="904.2" y="2163.1">Triglycerides</text><text x="904.2" y="2185.8">Prothrombin time</text><text x="904.2" y="2225.6">Serum creatinine</text><text x="904.2" y="2248.3">Serum total protein</text><text x="904.2" y="2270.9">Serum phosphate</text><text x="904.2" y="2293.6">Serum albumin</text><text x="904.2" y="2316.2">Serum calcium</text><text x="904.2" y="2338.9">Serum potassium</text><text x="904.2" y="2361.5">Carbon dioxide</text><text x="904.2" y="2384.2">Blood urea nitrogen</text><text x="904.2" y="2406.8">Serum sodium</text><text x="904.2" y="2429.5">Hematocrit</text><text x="904.2" y="2452.1">Hemoglobin</text></g>
<g text-anchor="middle" fill="#4d4d4d" stroke="#4d4d4d" stroke-width="0.3"><text x="920.2" y="2484.7">1</text><text x="1033.6" y="2484.7">1.3</text><text x="1095.5" y="2484.7">1.5</text><text x="1149.5" y="2484.7">1.7</text><text x="1219.8" y="2484.7">2</text><text x="1316.2" y="2484.7">2.5</text><text x="1395.0" y="2484.7">3</text><text x="1519.3" y="2484.7">4</text><text x="1615.7" y="2484.7">5</text><text x="1694.5" y="2484.7">6</text><text x="1761.1" y="2484.7">7</text><text x="1818.8" y="2484.7">8</text><text x="1869.7" y="2484.7">9</text></g>
<g stroke="#000" stroke-width="2.7" fill="none"><line x1="920.2" y1="1757.0" x2="920.2" y2="2191.1"/><line x1="920.2" y1="2204.6" x2="920.2" y2="2457.4"/><line x1="918.9" y1="2457.4" x2="1870.4" y2="2457.4"/></g>
<g stroke="#000" stroke-width="2.1" fill="none"><line x1="913.4" y1="1770.2" x2="920.2" y2="1770.2"/><line x1="913.4" y1="1792.8" x2="920.2" y2="1792.8"/><line x1="913.4" y1="1815.5" x2="920.2" y2="1815.5"/><line x1="913.4" y1="1838.1" x2="920.2" y2="1838.1"/><line x1="913.4" y1="1860.8" x2="920.2" y2="1860.8"/><line x1="913.4" y1="1883.4" x2="920.2" y2="1883.4"/><line x1="913.4" y1="1906.1" x2="920.2" y2="1906.1"/><line x1="913.4" y1="1928.7" x2="920.2" y2="1928.7"/><line x1="913.4" y1="1951.4" x2="920.2" y2="1951.4"/><line x1="913.4" y1="1974.0" x2="920.2" y2="1974.0"/><line x1="913.4" y1="1996.7" x2="920.2" y2="1996.7"/><line x1="913.4" y1="2019.3" x2="920.2" y2="2019.3"/><line x1="913.4" y1="2042.0" x2="920.2" y2="2042.0"/><line x1="913.4" y1="2064.6" x2="920.2" y2="2064.6"/><line x1="913.4" y1="2087.3" x2="920.2" y2="2087.3"/><line x1="913.4" y1="2109.9" x2="920.2" y2="2109.9"/><line x1="913.4" y1="2132.6" x2="920.2" y2="2132.6"/><line x1="913.4" y1="2155.2" x2="920.2" y2="2155.2"/><line x1="913.4" y1="2177.9" x2="920.2" y2="2177.9"/><line x1="913.4" y1="2217.7" x2="920.2" y2="2217.7"/><line x1="913.4" y1="2240.4" x2="920.2" y2="2240.4"/><line x1="913.4" y1="2263.0" x2="920.2" y2="2263.0"/><line x1="913.4" y1="2285.7" x2="920.2" y2="2285.7"/><line x1="913.4" y1="2308.3" x2="920.2" y2="2308.3"/><line x1="913.4" y1="2331.0" x2="920.2" y2="2331.0"/><line x1="913.4" y1="2353.6" x2="920.2" y2="2353.6"/><line x1="913.4" y1="2376.3" x2="920.2" y2="2376.3"/><line x1="913.4" y1="2398.9" x2="920.2" y2="2398.9"/><line x1="913.4" y1="2421.6" x2="920.2" y2="2421.6"/><line x1="913.4" y1="2444.2" x2="920.2" y2="2444.2"/><line x1="920.2" y1="2457.4" x2="920.2" y2="2464.4"/><line x1="1033.6" y1="2457.4" x2="1033.6" y2="2464.4"/><line x1="1095.5" y1="2457.4" x2="1095.5" y2="2464.4"/><line x1="1149.5" y1="2457.4" x2="1149.5" y2="2464.4"/><line x1="1219.8" y1="2457.4" x2="1219.8" y2="2464.4"/><line x1="1316.2" y1="2457.4" x2="1316.2" y2="2464.4"/><line x1="1395.0" y1="2457.4" x2="1395.0" y2="2464.4"/><line x1="1519.3" y1="2457.4" x2="1519.3" y2="2464.4"/><line x1="1615.7" y1="2457.4" x2="1615.7" y2="2464.4"/><line x1="1694.5" y1="2457.4" x2="1694.5" y2="2464.4"/><line x1="1761.1" y1="2457.4" x2="1761.1" y2="2464.4"/><line x1="1818.8" y1="2457.4" x2="1818.8" y2="2464.4"/><line x1="1869.7" y1="2457.4" x2="1869.7" y2="2464.4"/></g>
<g stroke="#000" stroke-width="3.8" fill="none"><path d="M1498.0 1770.2H1724.0"/><path d="M1235.4 1792.8H1323.1"/><path d="M1213.9 1815.5H1308.0"/><path d="M1171.8 1838.1H1247.2"/><path d="M1131.5 1860.8H1222.9"/><path d="M1101.3 1883.4H1205.7"/><path d="M1082.8 1906.1H1171.5"/><path d="M1043.2 1928.7H1117.6"/><path d="M1006.8 1951.4H1063.4"/><path d="M1004.1 1974.0H1061.6"/><path d="M999.0 1996.7H1062.8"/><path d="M986.0 2019.3H1071.9"/><path d="M980.5 2042.0H1069.8"/><path d="M984.1 2064.6H1062.8"/><path d="M982.6 2087.3H1052.2"/><path d="M966.3 2109.9H1054.1"/><path d="M974.5 2132.6H1043.2"/><path d="M970.5 2155.2H1036.8"/><path d="M964.5 2177.9H1033.8"/><path d="M1140.0 2217.7H1302.5"/><path d="M1152.1 2240.4H1216.9"/><path d="M1089.8 2263.0H1168.2"/><path d="M1086.7 2285.7H1136.4"/><path d="M1076.8 2308.3H1133.4"/><path d="M1052.2 2331.0H1113.1"/><path d="M1038.3 2353.6H1099.2"/><path d="M1007.4 2376.3H1113.4"/><path d="M1001.1 2398.9H1057.4"/><path d="M976.6 2421.6H1027.0"/><path d="M975.1 2444.2H1027.0"/></g>
<g stroke="#000" stroke-width="4.3" fill="none"><path d="M1498.0 1763.1V1777.3M1724.0 1763.1V1777.3"/><path d="M1235.4 1785.7V1799.9M1323.1 1785.7V1799.9"/><path d="M1213.9 1808.4V1822.6M1308.0 1808.4V1822.6"/><path d="M1171.8 1831.0V1845.2M1247.2 1831.0V1845.2"/><path d="M1131.5 1853.7V1867.9M1222.9 1853.7V1867.9"/><path d="M1101.3 1876.3V1890.5M1205.7 1876.3V1890.5"/><path d="M1082.8 1899.0V1913.2M1171.5 1899.0V1913.2"/><path d="M1043.2 1921.6V1935.8M1117.6 1921.6V1935.8"/><path d="M1006.8 1944.3V1958.5M1063.4 1944.3V1958.5"/><path d="M1004.1 1966.9V1981.1M1061.6 1966.9V1981.1"/><path d="M999.0 1989.6V2003.8M1062.8 1989.6V2003.8"/><path d="M986.0 2012.2V2026.4M1071.9 2012.2V2026.4"/><path d="M980.5 2034.9V2049.1M1069.8 2034.9V2049.1"/><path d="M984.1 2057.5V2071.7M1062.8 2057.5V2071.7"/><path d="M982.6 2080.2V2094.4M1052.2 2080.2V2094.4"/><path d="M966.3 2102.8V2117.0M1054.1 2102.8V2117.0"/><path d="M974.5 2125.5V2139.7M1043.2 2125.5V2139.7"/><path d="M970.5 2148.1V2162.3M1036.8 2148.1V2162.3"/><path d="M964.5 2170.8V2185.0M1033.8 2170.8V2185.0"/><path d="M1140.0 2210.6V2224.8M1302.5 2210.6V2224.8"/><path d="M1152.1 2233.3V2247.5M1216.9 2233.3V2247.5"/><path d="M1089.8 2255.9V2270.1M1168.2 2255.9V2270.1"/><path d="M1086.7 2278.6V2292.8M1136.4 2278.6V2292.8"/><path d="M1076.8 2301.2V2315.4M1133.4 2301.2V2315.4"/><path d="M1052.2 2323.9V2338.1M1113.1 2323.9V2338.1"/><path d="M1038.3 2346.5V2360.7M1099.2 2346.5V2360.7"/><path d="M1007.4 2369.2V2383.4M1113.4 2369.2V2383.4"/><path d="M1001.1 2391.8V2406.0M1057.4 2391.8V2406.0"/><path d="M976.6 2414.5V2428.7M1027.0 2414.5V2428.7"/><path d="M975.1 2437.1V2451.3M1027.0 2437.1V2451.3"/></g>
<g fill="#000"><circle cx="1611.0" cy="1770.2" r="8.6"/><circle cx="1278.9" cy="1792.8" r="8.6"/><circle cx="1260.8" cy="1815.5" r="8.6"/><circle cx="1209.3" cy="1838.1" r="8.6"/><circle cx="1176.9" cy="1860.8" r="8.6"/><circle cx="1153.3" cy="1883.4" r="8.6"/><circle cx="1126.7" cy="1906.1" r="8.6"/><circle cx="1080.4" cy="1928.7" r="8.6"/><circle cx="1035.0" cy="1951.4" r="8.6"/><circle cx="1032.6" cy="1974.0" r="8.6"/><circle cx="1031.1" cy="1996.7" r="8.6"/><circle cx="1028.6" cy="2019.3" r="8.6"/><circle cx="1024.7" cy="2042.0" r="8.6"/><circle cx="1023.5" cy="2064.6" r="8.6"/><circle cx="1017.4" cy="2087.3" r="8.6"/><circle cx="1009.6" cy="2109.9" r="8.6"/><circle cx="1008.7" cy="2132.6" r="8.6"/><circle cx="1003.2" cy="2155.2" r="8.6"/><circle cx="999.3" cy="2177.9" r="8.6"/><circle cx="1221.1" cy="2217.7" r="8.6"/><circle cx="1184.5" cy="2240.4" r="8.6"/><circle cx="1128.8" cy="2263.0" r="8.6"/><circle cx="1111.6" cy="2285.7" r="8.6"/><circle cx="1104.9" cy="2308.3" r="8.6"/><circle cx="1082.8" cy="2331.0" r="8.6"/><circle cx="1068.6" cy="2353.6" r="8.6"/><circle cx="1060.4" cy="2376.3" r="8.6"/><circle cx="1029.2" cy="2398.9" r="8.6"/><circle cx="1002.0" cy="2421.6" r="8.6"/><circle cx="1001.4" cy="2444.2" r="8.6"/></g>
<g font-weight="bold" font-size="51.5" fill="#000">
<text x="-1.6" y="36.4">a</text><text x="-0.9" y="1183.3">b</text><text x="-0.6" y="1793.8">c</text>
</g>
<text x="1394.9" y="2514.9" text-anchor="middle" font-size="26" fill="#000">Adjusted hazard ratio (95% CI)</text>
</svg>
</body></html>
